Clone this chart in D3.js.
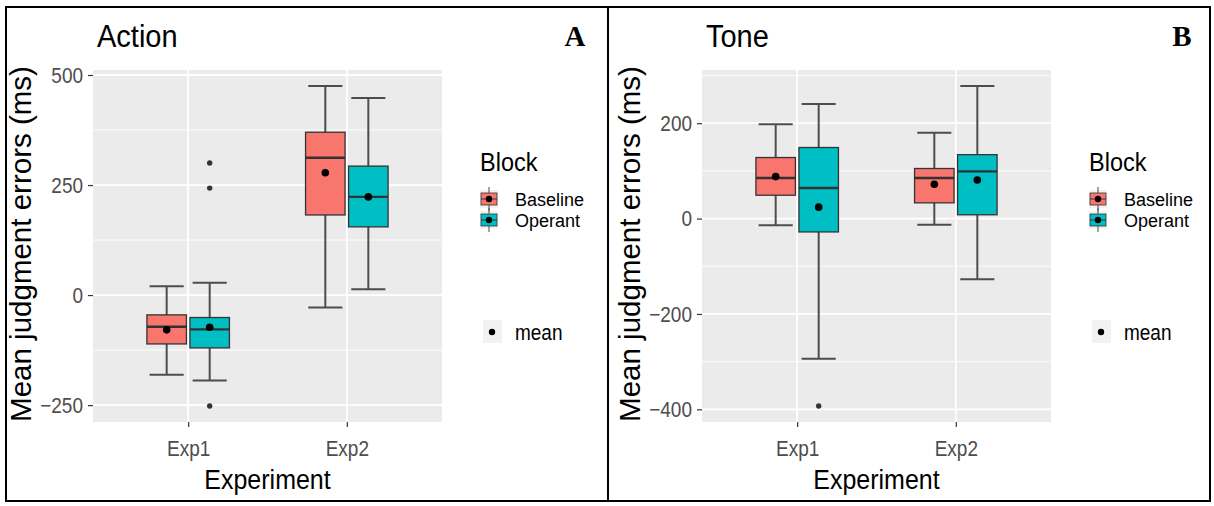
<!DOCTYPE html>
<html><head><meta charset="utf-8">
<script src="https://cdn.jsdelivr.net/npm/d3@7/dist/d3.min.js"></script>
<style>body{margin:0;background:#fff}svg{display:block}text{font-family:"Liberation Sans",Arial,sans-serif}</style>
</head><body><svg id="c" width="1214" height="506"></svg>
<script>
// ---- data (order: Exp1-Baseline, Exp1-Operant, Exp2-Baseline, Exp2-Operant)
const experiments = ["Exp1", "Exp2"];
const blocks = ["Baseline", "Operant"];
const blockColors = ["#F8766D", "#00BFC4"];

const actionWhiskerLow  = [-181, -194, -28, 13];
const actionQ1          = [-111, -120, 182, 155];
const actionMedian      = [-72, -78, 312, 223];
const actionQ3          = [-45, -51, 370, 293];
const actionWhiskerHigh = [20, 28, 475, 448];
const actionMean        = [-79, -73, 278, 223];
const actionOutliers    = [[], [300, 243, -252], [], []];
const actionTicks = [-250, 0, 250, 500];
const actionMinor = [-125, 125, 375];

const toneWhiskerLow  = [-14, -294, -13, -127];
const toneQ1          = [49, -28, 33, 8];
const toneMedian      = [85, 64, 85, 99];
const toneQ3          = [128, 149, 105, 134];
const toneWhiskerHigh = [198, 240, 180, 278];
const toneMean        = [88, 24, 72, 81];
const toneOutliers    = [[], [-393], [], []];
const toneTicks = [-400, -200, 0, 200];
const toneMinor = [-300, -100, 100, 300];

const svg = d3.select("#c");
const STRETCH = 1.12;

// stretch a text element vertically around its own bbox centre (reference glyphs look tall/narrow)
function stretch(sel, k) {
  sel.each(function () {
    const b = this.getBBox();
    const cy = b.y + b.height / 2;
    const prev = this.getAttribute("transform") || "";
    this.setAttribute("transform", `translate(0,${cy}) scale(1,${k}) translate(0,${-cy}) ` + prev);
  });
}

function rows(lo, q1, med, q3, hi, mean, outl) {
  const r = [];
  experiments.forEach((e, i) => blocks.forEach((b, j) => {
    const k = i * 2 + j;
    r.push({exp: e, block: j, lo: lo[k], q1: q1[k], med: med[k], q3: q3[k], hi: hi[k], mean: mean[k], out: outl[k]});
  }));
  return r;
}

function panel(o) {
  const g = svg.append("g");
  const data = rows(o.lo, o.q1, o.med, o.q3, o.hi, o.mean, o.out);
  const all = data.flatMap(d => [d.lo, d.hi, ...d.out]);
  const mn = d3.min(all), mx = d3.max(all), ex = (mx - mn) * 0.05;
  const y = d3.scaleLinear().domain([mn - ex, mx + ex]).range([o.bottom, o.top]);
  const x = d3.scalePoint().domain(experiments).range([o.left, o.right]).padding(0.6);
  const step = x.step();
  const off = j => (j === 0 ? -1 : 1) * 0.1356 * step;
  const bw = 0.249 * step, cw = 0.215 * step;

  g.append("rect").attr("x", o.left).attr("y", o.top).attr("width", o.right - o.left)
    .attr("height", o.bottom - o.top).attr("fill", "#EBEBEB");
  g.selectAll(".mn").data(o.minor).join("line").attr("x1", o.left).attr("x2", o.right)
    .attr("y1", d => y(d)).attr("y2", d => y(d)).attr("stroke", "#fff").attr("stroke-width", 0.9);
  g.selectAll(".mj").data(o.ticks).join("line").attr("x1", o.left).attr("x2", o.right)
    .attr("y1", d => y(d)).attr("y2", d => y(d)).attr("stroke", "#fff").attr("stroke-width", 1.8);
  g.selectAll(".vx").data(experiments).join("line").attr("y1", o.top).attr("y2", o.bottom)
    .attr("x1", d => x(d)).attr("x2", d => x(d)).attr("stroke", "#fff").attr("stroke-width", 1.8);

  const bx = g.selectAll(".bx").data(data).join("g").attr("transform", d => `translate(${x(d.exp) + off(d.block)},0)`);
  bx.append("line").attr("x1", 0).attr("x2", 0).attr("y1", d => y(d.hi)).attr("y2", d => y(d.lo))
    .attr("stroke", "#4D4D4D").attr("stroke-width", 2);
  bx.append("line").attr("x1", -cw / 2).attr("x2", cw / 2).attr("y1", d => y(d.hi)).attr("y2", d => y(d.hi))
    .attr("stroke", "#4D4D4D").attr("stroke-width", 2);
  bx.append("line").attr("x1", -cw / 2).attr("x2", cw / 2).attr("y1", d => y(d.lo)).attr("y2", d => y(d.lo))
    .attr("stroke", "#4D4D4D").attr("stroke-width", 2);
  bx.append("rect").attr("x", -bw / 2).attr("width", bw).attr("y", d => y(d.q3)).attr("height", d => y(d.q1) - y(d.q3))
    .attr("fill", d => blockColors[d.block]).attr("stroke", "#333").attr("stroke-width", 1.3);
  bx.append("line").attr("x1", -bw / 2).attr("x2", bw / 2).attr("y1", d => y(d.med)).attr("y2", d => y(d.med))
    .attr("stroke", "#333").attr("stroke-width", 2.4);
  bx.selectAll(".ol").data(d => d.out).join("circle").attr("cx", 0).attr("cy", d => y(d)).attr("r", 2.7).attr("fill", "#333");
  bx.append("circle").attr("cx", 0).attr("cy", d => y(d.mean)).attr("r", 3.8).attr("fill", "#000");

  const ya = g.append("g").attr("transform", `translate(${o.left},0)`)
    .call(d3.axisLeft(y).tickValues(o.ticks).tickSize(5).tickPadding(5));
  const xa = g.append("g").attr("transform", `translate(0,${o.bottom})`)
    .call(d3.axisBottom(x).tickSize(5).tickPadding(14));
  [ya, xa].forEach(a => {
    a.select(".domain").remove();
    a.selectAll("line").attr("stroke", "#333").attr("stroke-width", 1.2);
    a.selectAll("text").attr("fill", "#4D4D4D").style("font-size", "19px").style("font-family", "Liberation Sans, Arial, sans-serif");
    stretch(a.selectAll("text"), STRETCH + 0.04);
  });

  const t = g.append("text").attr("x", o.left + 4).attr("y", 46.5).text(o.title).style("font-size", "29px").attr("fill", "#000");
  stretch(t, 1.05);
  g.append("text").attr("x", o.letterX).attr("y", 46).text(o.letter).attr("text-anchor", "middle")
    .style("font-family", "Liberation Serif, Times New Roman, serif").style("font-weight", "bold").style("font-size", "29px");
  const xt = g.append("text").attr("x", (o.left + o.right) / 2).attr("y", 488).attr("text-anchor", "middle")
    .text("Experiment").style("font-size", "25px");
  stretch(xt, STRETCH);
  g.append("text").attr("transform", `translate(${o.left - 62},${(o.top + o.bottom) / 2 - 2}) rotate(-90)`)
    .attr("text-anchor", "middle").text("Mean judgment errors (ms)").style("font-size", "29.5px");

  // legend
  const lx = o.right + 38;
  const bt = g.append("text").attr("x", lx).attr("y", 170).text("Block").style("font-size", "23.5px");
  stretch(bt, STRETCH);
  blocks.forEach((b, j) => {
    const ky = 190 + j * 21;
    const kg = g.append("g").attr("transform", `translate(${lx},${ky})`);
    kg.append("rect").attr("x", 0).attr("y", 0).attr("width", 18).attr("height", 18).attr("fill", "#F2F2F2");
    kg.append("line").attr("x1", 9).attr("x2", 9).attr("y1", -3).attr("y2", 21).attr("stroke", "#4D4D4D").attr("stroke-width", 1);
    kg.append("rect").attr("x", 1).attr("y", 3).attr("width", 16).attr("height", 12)
      .attr("fill", blockColors[j]).attr("stroke", "#333").attr("stroke-width", 0.8);
    kg.append("line").attr("x1", 1).attr("x2", 17).attr("y1", 9).attr("y2", 9).attr("stroke", "#333").attr("stroke-width", 1);
    kg.append("circle").attr("cx", 9).attr("cy", 9).attr("r", 3.2).attr("fill", "#000");
    g.append("text").attr("x", lx + 35).attr("y", ky + 10).attr("dy", "0.36em").text(b).style("font-size", "18px");
  });
  g.append("rect").attr("x", lx + 3).attr("y", 320).attr("width", 19).attr("height", 23).attr("fill", "#F2F2F2");
  g.append("circle").attr("cx", lx + 12).attr("cy", 332).attr("r", 3.2).attr("fill", "#000");
  const mt = g.append("text").attr("x", lx + 35).attr("y", 332).attr("dy", "0.36em").text("mean").style("font-size", "19px");
  stretch(mt, STRETCH);
}

panel({left: 93, right: 442, top: 70, bottom: 422, title: "Action", letter: "A", letterX: 575,
  lo: actionWhiskerLow, q1: actionQ1, med: actionMedian, q3: actionQ3, hi: actionWhiskerHigh, mean: actionMean, out: actionOutliers,
  ticks: actionTicks, minor: actionMinor});
panel({left: 702, right: 1051, top: 70, bottom: 422, title: "Tone", letter: "B", letterX: 1182,
  lo: toneWhiskerLow, q1: toneQ1, med: toneMedian, q3: toneQ3, hi: toneWhiskerHigh, mean: toneMean, out: toneOutliers,
  ticks: toneTicks, minor: toneMinor});

// frame
svg.append("rect").attr("x", 6).attr("y", 7).attr("width", 1204).attr("height", 494)
  .attr("fill", "none").attr("stroke", "#000").attr("stroke-width", 2);
svg.append("line").attr("x1", 608).attr("x2", 608).attr("y1", 7).attr("y2", 501).attr("stroke", "#000").attr("stroke-width", 2);
</script></body></html>
